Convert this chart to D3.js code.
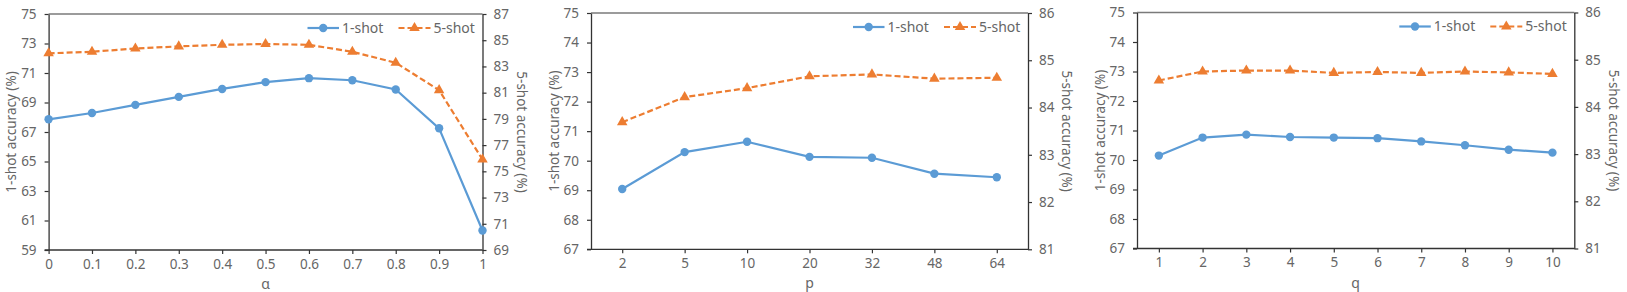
<!DOCTYPE html>
<html>
<head>
<meta charset="utf-8">
<script src="https://d3js.org/d3.v7.min.js"></script>
<style>
  body { margin: 0; background: #fff; }
  text { font-family: "Noto Sans", "Liberation Sans", sans-serif; fill: #666; }
</style>
</head>
<body>
<script>
// alpha sweep
var alphaLabels = ["0", "0.1", "0.2", "0.3", "0.4", "0.5", "0.6", "0.7", "0.8", "0.9", "1"];
var alphaOneShot = [67.86, 68.29, 68.84, 69.38, 69.92, 70.38, 70.65, 70.51, 69.88, 67.25, 60.32];
var alphaFiveShot = [84.0, 84.12, 84.37, 84.53, 84.65, 84.71, 84.65, 84.12, 83.28, 81.19, 75.9];

// p sweep
var pLabels = ["2", "5", "10", "20", "32", "48", "64"];
var pOneShot = [69.04, 70.29, 70.64, 70.13, 70.10, 69.56, 69.44];
var pFiveShot = [83.69, 84.22, 84.41, 84.66, 84.70, 84.61, 84.63];

// q sweep
var qLabels = ["1", "2", "3", "4", "5", "6", "7", "8", "9", "10"];
var qOneShot = [70.15, 70.76, 70.86, 70.78, 70.76, 70.74, 70.63, 70.50, 70.35, 70.25];
var qFiveShot = [84.56, 84.75, 84.77, 84.77, 84.72, 84.74, 84.72, 84.75, 84.73, 84.70];

// axis tick values
var alphaLeftTicks = [59, 61, 63, 65, 67, 69, 71, 73, 75];
var alphaRightTicks = [69, 71, 73, 75, 77, 79, 81, 83, 85, 87];
var pqLeftTicks = [67, 68, 69, 70, 71, 72, 73, 74, 75];
var pqRightTicks = [81, 82, 83, 84, 85, 86];

var blue = "#5b9bd5", orange = "#ed7d31", axisColor = "#333";

var svg = d3.select("body").append("svg")
    .attr("width", 1627)
    .attr("height", 292);

var panels = [
    {left: 48.6, right: 482.5, top: 14, bottom: 250, pad: 0, xTitle: "\u03b1",
     labels: alphaLabels, one: alphaOneShot, five: alphaFiveShot,
     lt: alphaLeftTicks, rt: alphaRightTicks},
    {left: 591, right: 1028, top: 13, bottom: 249.3, pad: 0.5, xTitle: "p",
     labels: pLabels, one: pOneShot, five: pFiveShot,
     lt: pqLeftTicks, rt: pqRightTicks},
    {left: 1137, right: 1574.3, top: 12.5, bottom: 248.5, pad: 0.5, xTitle: "q",
     labels: qLabels, one: qOneShot, five: qFiveShot,
     lt: pqLeftTicks, rt: pqRightTicks}
];

panels.forEach(drawPanel);

function drawPanel(p) {
    var g = svg.append("g");

    var xScale = d3.scalePoint().domain(p.labels).range([p.left, p.right]).padding(p.pad);
    var yLeft = d3.scaleLinear().domain([p.lt[0], p.lt[p.lt.length - 1]]).range([p.bottom, p.top]);
    var yRight = d3.scaleLinear().domain([p.rt[0], p.rt[p.rt.length - 1]]).range([p.bottom, p.top]);

    // top border of plot area
    g.append("line")
        .attr("x1", p.left).attr("x2", p.right)
        .attr("y1", p.top).attr("y2", p.top)
        .attr("stroke", "#7a7a7a").attr("stroke-width", 1.3);

    var xAxis = g.append("g")
        .attr("transform", "translate(0," + p.bottom + ")")
        .call(d3.axisBottom(xScale).tickSizeInner(4).tickSizeOuter(0).tickPadding(5));

    var lAxis = g.append("g")
        .attr("transform", "translate(" + p.left + ",0)")
        .call(d3.axisLeft(yLeft).tickValues(p.lt).tickFormat(d3.format("d"))
            .tickSizeInner(4).tickSizeOuter(0).tickPadding(8));

    var rAxis = g.append("g")
        .attr("transform", "translate(" + p.right + ",0)")
        .call(d3.axisRight(yRight).tickValues(p.rt).tickFormat(d3.format("d"))
            .tickSizeInner(4).tickSizeOuter(0).tickPadding(7));

    [xAxis, lAxis, rAxis].forEach(function(a) {
        a.select(".domain").attr("stroke", axisColor).attr("stroke-width", 1.3);
        a.selectAll(".tick line").attr("stroke", axisColor).attr("stroke-width", 1.2);
        a.selectAll("text").style("font-size", "13.5px").attr("fill", "#666");
    });
    // bottom axis line spans the whole plot width
    xAxis.select(".domain").attr("d", "M" + (p.left - 4) + ",0H" + p.right);

    // axis titles
    g.append("text")
        .attr("transform", "translate(" + (p.left - 37) + "," + ((p.top + p.bottom) / 2) + ") rotate(-90)")
        .attr("text-anchor", "middle")
        .attr("dy", "0.35em")
        .style("font-size", "13.5px")
        .text("1-shot accuracy (%)");

    g.append("text")
        .attr("transform", "translate(" + (p.right + 39) + "," + ((p.top + p.bottom) / 2) + ") rotate(90)")
        .attr("text-anchor", "middle")
        .attr("dy", "0.35em")
        .style("font-size", "13.5px")
        .text("5-shot accuracy (%)");

    g.append("text")
        .attr("x", (p.left + p.right) / 2)
        .attr("y", p.bottom + 39)
        .attr("text-anchor", "middle")
        .style("font-size", "14px")
        .text(p.xTitle);

    var idx = d3.range(p.labels.length);

    var lineOne = d3.line()
        .x(function(i) { return xScale(p.labels[i]); })
        .y(function(i) { return yLeft(p.one[i]); });
    var lineFive = d3.line()
        .x(function(i) { return xScale(p.labels[i]); })
        .y(function(i) { return yRight(p.five[i]); });

    g.append("path")
        .datum(idx)
        .attr("d", lineOne)
        .attr("fill", "none")
        .attr("stroke", blue)
        .attr("stroke-width", 2.2);

    g.append("path")
        .datum(idx)
        .attr("d", lineFive)
        .attr("fill", "none")
        .attr("stroke", orange)
        .attr("stroke-width", 2.2)
        .attr("stroke-dasharray", "6,3");

    g.selectAll(".dot")
        .data(idx)
        .enter().append("circle")
        .attr("class", "dot")
        .attr("r", 4.2)
        .attr("cx", function(i) { return xScale(p.labels[i]); })
        .attr("cy", function(i) { return yLeft(p.one[i]); })
        .attr("fill", blue);

    var tri = d3.symbol().type(d3.symbolTriangle).size(48);
    g.selectAll(".tri")
        .data(idx)
        .enter().append("path")
        .attr("class", "tri")
        .attr("d", tri)
        .attr("transform", function(i) {
            return "translate(" + xScale(p.labels[i]) + "," + yRight(p.five[i]) + ")";
        })
        .attr("fill", orange);

    // legend
    var ly = p.top + 14;
    var leg = g.append("g");
    leg.append("line")
        .attr("x1", p.right - 175).attr("x2", p.right - 143.5)
        .attr("y1", ly).attr("y2", ly)
        .attr("stroke", blue).attr("stroke-width", 2.2);
    leg.append("circle")
        .attr("cx", p.right - 159.3).attr("cy", ly).attr("r", 4.2)
        .attr("fill", blue);
    leg.append("text")
        .attr("x", p.right - 140.5).attr("y", ly)
        .attr("dy", "0.35em")
        .style("font-size", "14px")
        .text("1-shot");

    leg.append("line")
        .attr("x1", p.right - 84).attr("x2", p.right - 52)
        .attr("y1", ly).attr("y2", ly)
        .attr("stroke", orange).attr("stroke-width", 2.2)
        .attr("stroke-dasharray", "6,3");
    leg.append("path")
        .attr("d", tri)
        .attr("transform", "translate(" + (p.right - 68) + "," + ly + ")")
        .attr("fill", orange);
    leg.append("text")
        .attr("x", p.right - 49).attr("y", ly)
        .attr("dy", "0.35em")
        .style("font-size", "14px")
        .text("5-shot");
}
</script>
</body>
</html>
